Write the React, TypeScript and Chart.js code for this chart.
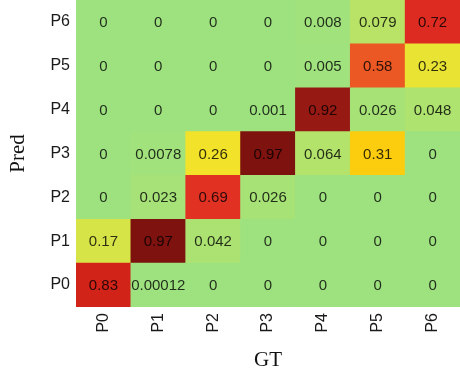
import React, { useEffect, useRef } from "react";
import { Chart, registerables } from "chart.js";

Chart.register(...registerables);

const gtLabels = ["P0", "P1", "P2", "P3", "P4", "P5", "P6"];
const predLabels = ["P0", "P1", "P2", "P3", "P4", "P5", "P6"];

// rows = predicted class, columns = ground truth class
const predP0 = [0.83, 0.00012, 0, 0, 0, 0, 0];
const predP1 = [0.17, 0.97, 0.042, 0, 0, 0, 0];
const predP2 = [0, 0.023, 0.69, 0.026, 0, 0, 0];
const predP3 = [0, 0.0078, 0.26, 0.97, 0.064, 0.31, 0];
const predP4 = [0, 0, 0, 0.001, 0.92, 0.026, 0.048];
const predP5 = [0, 0, 0, 0, 0.005, 0.58, 0.23];
const predP6 = [0, 0, 0, 0, 0.008, 0.079, 0.72];

const rows = [predP0, predP1, predP2, predP3, predP4, predP5, predP6];

const stops: [number, number[]][] = [
  [0, [158, 226, 128]],
  [0.17, [215, 228, 72]],
  [0.26, [242, 226, 42]],
  [0.31, [252, 205, 15]],
  [0.58, [236, 88, 35]],
  [0.7, [224, 45, 35]],
  [0.83, [210, 35, 25]],
  [0.92, [150, 25, 20]],
  [0.97, [125, 18, 14]],
  [1, [115, 15, 12]],
];

function colorFor(v: number): string {
  for (let i = 1; i < stops.length; i++) {
    const [p1, c1] = stops[i];
    const [p0, c0] = stops[i - 1];
    if (v <= p1) {
      const t = (v - p0) / (p1 - p0);
      const c = c0.map((a, k) => Math.round(a + (c1[k] - a) * t));
      return `rgb(${c[0]},${c[1]},${c[2]})`;
    }
  }
  const c = stops[stops.length - 1][1];
  return `rgb(${c[0]},${c[1]},${c[2]})`;
}

const cellText = {
  id: "cellText",
  afterDatasetsDraw(chart: any) {
    const ctx = chart.ctx;
    ctx.save();
    ctx.font = "15px 'Liberation Sans', Arial, sans-serif";
    ctx.textAlign = "center";
    ctx.textBaseline = "middle";
    ctx.fillStyle = "rgba(0,0,0,0.8)";
    chart.data.datasets.forEach((ds: any, di: number) => {
      const meta = chart.getDatasetMeta(di);
      meta.data.forEach((el: any, i: number) => {
        const v = ds.values[i];
        const y = (el.y + el.base) / 2;
        ctx.fillText(String(v), el.x, y + 1);
      });
    });
    ctx.restore();
  },
};

const bgFill = {
  id: "bgFill",
  beforeDatasetsDraw(chart: any) {
    const { ctx, chartArea } = chart;
    ctx.save();
    ctx.fillStyle = colorFor(0);
    ctx.fillRect(chartArea.left, chartArea.top, chartArea.right - chartArea.left, chartArea.bottom - chartArea.top);
    ctx.restore();
  },
};

export default function App() {
  const ref = useRef<HTMLCanvasElement | null>(null);
  useEffect(() => {
    if (!ref.current) return;
    const chart = new Chart(ref.current, {
      type: "bar",
      data: {
        labels: gtLabels,
        datasets: rows.map((r, ri) => ({
          label: predLabels[ri],
          data: r.map(() => 1),
          values: r,
          backgroundColor: r.map((v) => colorFor(v)),
          borderWidth: 0,
          barPercentage: 1,
          categoryPercentage: 1,
          stack: "m",
        })) as any,
      },
      options: {
        animation: false,
        responsive: false,
        events: [],
        layout: { padding: 0 },
        plugins: { legend: { display: false }, tooltip: { enabled: false } },
        scales: {
          x: {
            stacked: true,
            grid: { display: false, drawTicks: false },
            border: { display: false },
            ticks: {
              minRotation: 90,
              maxRotation: 90,
              padding: 6,
              color: "#1a1a1a",
              font: { family: "'Liberation Sans', Arial, sans-serif", size: 16 },
            },
            title: {
              display: true,
              text: "GT",
              color: "#111",
              padding: { top: 0, bottom: 0 },
              font: { family: "'Liberation Serif', 'Times New Roman', serif", size: 21 },
            },
            afterFit(scale: any) {
              scale.height = 66;
              scale.paddingLeft = 0;
              scale.paddingRight = 0;
            },
          },
          y: {
            stacked: true,
            min: 0,
            max: 7,
            grid: { display: false, drawTicks: false },
            border: { display: false },
            afterBuildTicks(scale: any) {
              scale.ticks = predLabels.map((_, i) => ({ value: i + 0.5 }));
            },
            ticks: {
              padding: 6,
              color: "#1a1a1a",
              font: { family: "'Liberation Sans', Arial, sans-serif", size: 16 },
              callback: (v: any) => predLabels[Math.floor(Number(v))],
            },
            title: {
              display: true,
              text: "Pred",
              color: "#111",
              padding: { top: 6, bottom: 0 },
              font: { family: "'Liberation Serif', 'Times New Roman', serif", size: 21 },
            },
            afterFit(scale: any) {
              scale.width = 76;
              scale.paddingTop = 0;
              scale.paddingBottom = 0;
            },
          },
        },
      } as any,
      plugins: [bgFill, cellText],
    });
    return () => chart.destroy();
  }, []);
  return (
    <div style={{ position: "absolute", left: 0, top: 0, width: 460, height: 373, background: "#fff" }}>
      <canvas ref={ref} width={460} height={373} style={{ width: 460, height: 373 }} />
    </div>
  );
}
